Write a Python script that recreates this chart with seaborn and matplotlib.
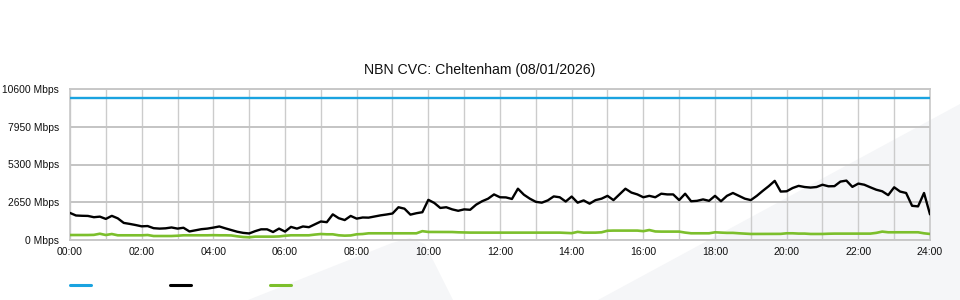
import numpy as np
import pandas as pd
import seaborn as sns
import matplotlib
matplotlib.use("Agg")
import matplotlib.pyplot as plt
from matplotlib.patches import Polygon
from matplotlib.lines import Line2D
from matplotlib.ticker import MultipleLocator, FuncFormatter

# ---- data (10-minute samples over the day, Mbps) ----
hours = np.arange(145) / 6.0

capacity = [10000] * 145

traffic_in = [
    1900, 1720, 1700, 1690, 1600, 1640, 1480, 1696, 1520, 1200, 1130, 1050, 960, 980,
    830, 800, 820, 880, 800, 860, 600, 680, 760, 800, 870, 950, 820, 700, 580, 500,
    460, 620, 750, 750, 560, 800, 590, 920, 800, 950, 900, 1100, 1300,
    1250, 1800, 1530, 1400, 1690, 1500, 1580, 1570, 1650, 1730, 1790, 1860, 2300, 2200,
    1780, 1880, 1950, 2820, 2600, 2250, 2300, 2150, 2050, 2150, 2120, 2480, 2720, 2900,
    3200, 3000, 2990, 2880, 3600, 3180, 2900, 2680, 2620, 2780, 3060, 3000, 2700, 3050,
    2620, 2780, 2550, 2800, 2900, 3100, 2800, 3200, 3600, 3330, 3200, 3000,
    3100, 3000, 3250, 3200, 3200, 2800, 3250, 2720, 2750, 2850, 2750, 3100, 2720, 3100,
    3300, 3100, 2900, 2800, 3100, 3450, 3780, 4150, 3400, 3420, 3650, 3800, 3720, 3680,
    3720, 3880, 3770, 3780, 4100, 4170, 3730, 3960, 3880, 3700, 3530, 3420, 3150, 3700,
    3400, 3300, 2400, 2360, 3300, 1800,
]

traffic_out = [
    350, 350, 350, 350, 360, 440, 350, 420,
    330, 330, 330, 330, 330, 350,
    280, 280, 280, 280, 300,
    330, 330, 330, 330, 330, 340, 330, 330, 320,
    260, 210, 190, 236, 236, 236, 236, 250, 300, 330, 330, 330, 330, 380, 420,
    400, 400, 330, 306, 320, 400, 420, 470, 470, 470, 470, 470, 470, 470, 470, 470,
    620, 565, 565, 565, 565, 560, 540, 530, 520,
    518, 518, 518, 518, 518, 518, 518, 518, 518, 518, 518, 518, 518, 518, 518,
    500, 480, 570, 518, 518, 518, 540, 650,
    660, 660, 660, 660, 660, 620,
    700, 600, 589, 589, 589, 589,
    520, 471, 471, 471, 471, 540, 520, 500, 500, 471, 450,
    424, 424, 424, 424, 424, 430,
    471, 471, 450, 450, 424, 424, 424,
    440, 448, 448, 448, 448, 448, 448, 448,
    500, 589, 542, 542, 542, 542, 542, 542, 470, 424,
]

y_ticks = [0, 2650, 5300, 7950, 10600]
title = "NBN CVC: Cheltenham (08/01/2026)"

df = pd.DataFrame({"hour": hours, "capacity": capacity,
                   "in": traffic_in, "out": traffic_out})

sns.set_theme(style="white")
plt.rcParams["font.family"] = ["Liberation Sans", "DejaVu Sans"]

fig = plt.figure(figsize=(9.6, 3.0), dpi=100)
fig.patch.set_facecolor("white")

# background watermark shapes (figure pixel coords -> figure fraction)
def fpoly(pts, **kw):
    pts = [(x / 960.0, 1 - y / 300.0) for x, y in pts]
    return Polygon(pts, closed=True, transform=fig.transFigure, **kw)

wm = "#f5f6f8"
fig.patches.append(fpoly([(248, 300), (392, 243), (410, 238), (425, 244), (453, 300)],
                         facecolor=wm, edgecolor="none", zorder=-5))
fig.patches.append(fpoly([(598, 300), (960, 104), (960, 300)],
                         facecolor=wm, edgecolor="none", zorder=-5))

ax = fig.add_axes([70 / 960, 60 / 300, 860 / 960, 151 / 300])
ax.set_zorder(2)
ax.set_facecolor("none")

sns.lineplot(data=df, x="hour", y="capacity", ax=ax, color="#1aa3e0", lw=1.7, zorder=4)
sns.lineplot(data=df, x="hour", y="out", ax=ax, color="#7cbf2c", lw=1.9, zorder=4)
sns.lineplot(data=df, x="hour", y="in", ax=ax, color="#000000", lw=1.7, zorder=5)

ax.set_xlim(0, 24)
ax.set_ylim(0, 10600)
ax.set_xlabel("")
ax.set_ylabel("")
ax.xaxis.set_major_locator(MultipleLocator(2))
ax.xaxis.set_minor_locator(MultipleLocator(1))
ax.xaxis.set_major_formatter(FuncFormatter(lambda v, p: f"{int(round(v)):02d}:00"))
ax.set_yticks(y_ticks)
ax.set_yticklabels([f"{v} Mbps" for v in y_ticks])
ax.tick_params(axis="both", which="both", length=0, labelsize=7.6, colors="#111111")
ax.tick_params(axis="y", pad=8, labelsize=7.4)
ax.tick_params(axis="x", pad=5)

ax.grid(True, axis="x", which="both", color="#cccccc", lw=1.0, zorder=1)
ax.grid(True, axis="y", which="major", color="#c4c4c4", lw=1.4, zorder=1)
for side, sp in ax.spines.items():
    sp.set_visible(True)
    sp.set_color("#c8c8c8")
    sp.set_linewidth(1.2 if side in ("left", "right") else 1.4)

fig.text(480 / 960, 1 - 70 / 300, title, ha="center", va="center",
         fontsize=10.2, color="#111111")

# legend swatches (no labels in reference)
for x0, c in [(70, "#1aa3e0"), (170, "#000000"), (270, "#7cbf2c")]:
    fig.add_artist(Line2D([x0 / 960, (x0 + 21) / 960], [1 - 285 / 300, 1 - 285 / 300],
                          transform=fig.transFigure, color=c, lw=2.2))

fig.savefig("out.png", dpi=100, facecolor="white")
